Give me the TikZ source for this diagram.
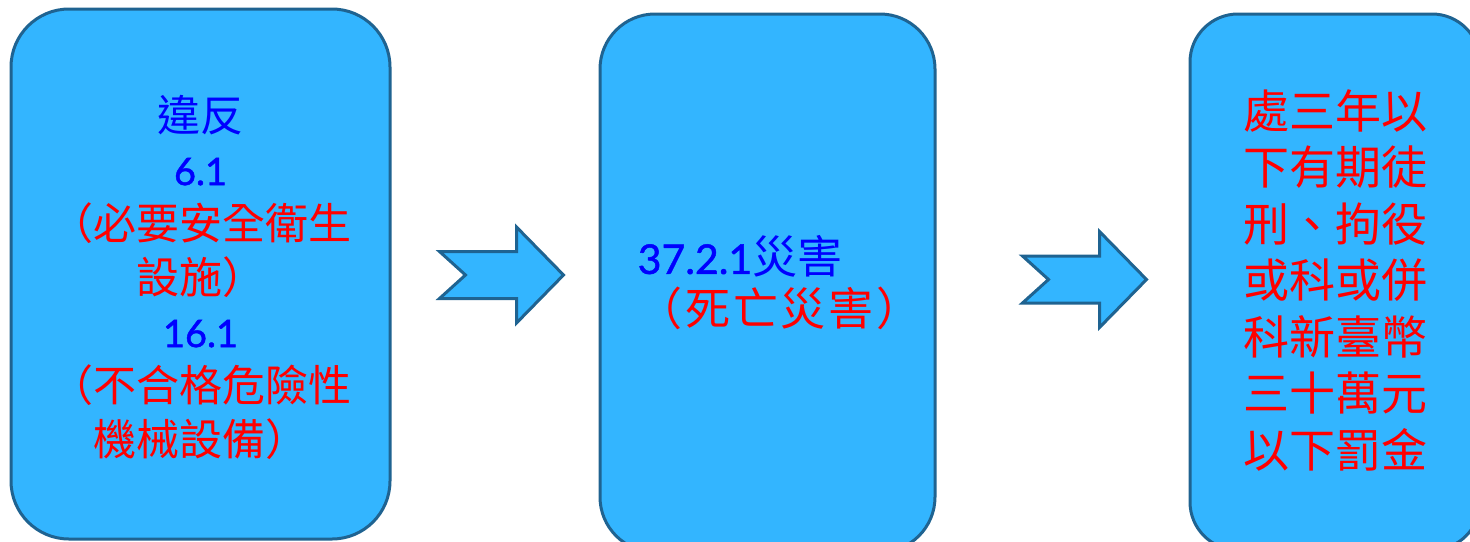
\documentclass[tikz,border=0pt]{standalone}
\usepackage{fontspec}
\setmainfont{Noto Sans CJK TC}
\newfontfamily\numfont[FakeBold=1.2]{Lato}
\usetikzlibrary{positioning}
\definecolor{sblue}{HTML}{33B5FF}
\definecolor{sedge}{HTML}{1F6391}
\definecolor{tblue}{HTML}{0000FF}
\definecolor{tred}{HTML}{FF0000}
\tikzstyle{panel} = [rectangle, rounded corners=55pt, draw=sedge, line width=3pt, fill=sblue, align=center, text=tred, inner sep=0pt]
\tikzstyle{shaft} = [draw=sedge, line width=3pt, fill=sblue, line join=miter]
\tikzset{notcharrow/.pic={\path[shaft] (-62,-23.5) -- (15,-23.5) -- (15,-48) -- (62,0) -- (15,48) -- (15,23.5) -- (-62,23.5) -- (-36,0) -- cycle;}}

\begin{document}
\begin{tikzpicture}[x=1pt, y=-1pt]
\useasboundingbox (0,0) rectangle (1470,541);
\clip (0,0) rectangle (1470,541);
%Boxes
\node (law) [panel, minimum width=379pt, minimum height=530pt, rounded corners=58pt, font=\fontsize{43}{54}\selectfont] at (200.5,274) {};
\node (lawtxt) [align=center, text=tred, font=\fontsize{43}{54}\selectfont, yshift=-3pt] at (law.center) {{\color{tblue}違反}\\{\numfont\fontsize{38}{54}\selectfont\color{tblue}6.1}\\（必要安全衛生\\設施）\\{\numfont\fontsize{38}{54}\selectfont\color{tblue}16.1}\\（不合格危險性\\機械設備）};
\node (harm) [panel, minimum width=335pt, minimum height=538pt] at (767.5,283) {};
\node (harmtxt) [align=left, text=tred, font=\fontsize{45}{52}\selectfont, xshift=12pt] at (harm.center) {{\color{tblue}{\numfont\fontsize{41}{52}\selectfont 37.2.1}災害}\\{\addfontfeature{LetterSpace=6}（死亡災害）}};
\node (penalty) [panel, minimum width=290pt, minimum height=536pt, rounded corners=48pt] at (1335,282) {};
\node (penaltytxt) [align=center, text=tred, font=\fontsize{46}{56.5}\selectfont, yshift=2pt] at (penalty.center) {處三年以\\下有期徒\\刑、拘役\\或科或併\\科新臺幣\\三十萬元\\以下罰金};
%Arrows
\pic at (501.5,275) {notcharrow};
\pic at (1084.5,279.5) {notcharrow};
\end{tikzpicture}
\end{document}
